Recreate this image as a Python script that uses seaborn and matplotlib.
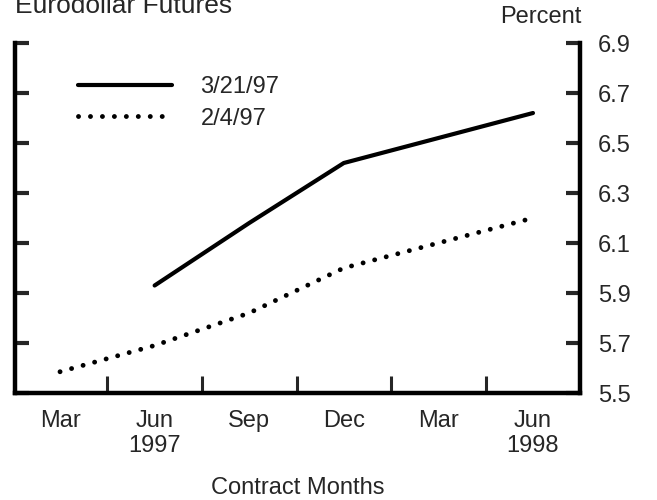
import pandas as pd
import numpy as np
import seaborn as sns
import matplotlib.pyplot as plt

# data (quarterly contract months)
months = ['Mar', 'Jun\n1997', 'Sep', 'Dec', 'Mar', 'Jun\n1998']
pos = [0, 1, 2, 3, 4, 5]
feb_4 = [5.585, 5.69, 5.82, 6.00, 6.10, 6.20]     # 2/4/97
mar_21_pos = [1, 2, 3, 4, 5]
mar_21 = [5.93, 6.18, 6.42, 6.52, 6.62]           # 3/21/97
y_ticks = [5.5, 5.7, 5.9, 6.1, 6.3, 6.5, 6.7, 6.9]

sns.set_style("white")
plt.rcParams['font.family'] = ['Liberation Sans', 'DejaVu Sans']
plt.rcParams['font.size'] = 17

fig = plt.figure(figsize=(6.57, 5), dpi=100)
ax = fig.add_axes([15 / 657, 1 - 393 / 500, 565 / 657, 350 / 500])

sns.lineplot(x=mar_21_pos, y=mar_21, ax=ax, color='black', lw=3,
             label='3/21/97')
sns.lineplot(x=pos, y=feb_4, ax=ax, color='black', lw=3.5,
             linestyle=(0, (0.01, 2.45)), dash_capstyle='round',
             label='2/4/97')

ax.set_xlim(-0.476, 5.497)
ax.set_ylim(5.5, 6.9)

# spines: left, right, bottom heavy; no top
for side in ['left', 'right', 'bottom']:
    ax.spines[side].set_linewidth(3.2)
    ax.spines[side].set_color('black')
ax.spines['top'].set_visible(False)

# x axis: labels at contract months, tick marks in between
ax.set_xticks(pos)
ax.set_xticklabels(months, linespacing=1.22)
ax.set_xticks([p + 0.5 for p in pos[:-1]], minor=True)
ax.tick_params(axis='x', which='major', length=0, pad=12)
ax.tick_params(axis='x', which='minor', direction='in', length=12, width=2.2,
               top=False, bottom=True)

# y axis: labels on the right, inward ticks on both sides
ax.set_yticks(y_ticks)
ax.set_yticks([6.9], minor=True)
ax.tick_params(axis='y', which='major', direction='in', length=10, width=3,
               left=True, right=True, labelleft=False, labelright=True, pad=13)
ax.tick_params(axis='y', which='minor', direction='in', length=22, width=3.5,
               left=True, right=True)

ax.set_xlabel('Contract Months', labelpad=14)
ax.set_ylabel('')

leg = ax.legend(loc='upper left', bbox_to_anchor=(0.111, 0.905), frameon=False,
                handlelength=4.0, handletextpad=1.2, labelspacing=0.4,
                borderpad=0, borderaxespad=0)

fig.text(582 / 657, 1 - 23 / 500, 'Percent', ha='right', va='baseline')
fig.text(15 / 657, 1 - 13 / 500, 'Eurodollar Futures', ha='left',
         va='baseline', fontsize=19)

fig.savefig('out.png', dpi=100)
